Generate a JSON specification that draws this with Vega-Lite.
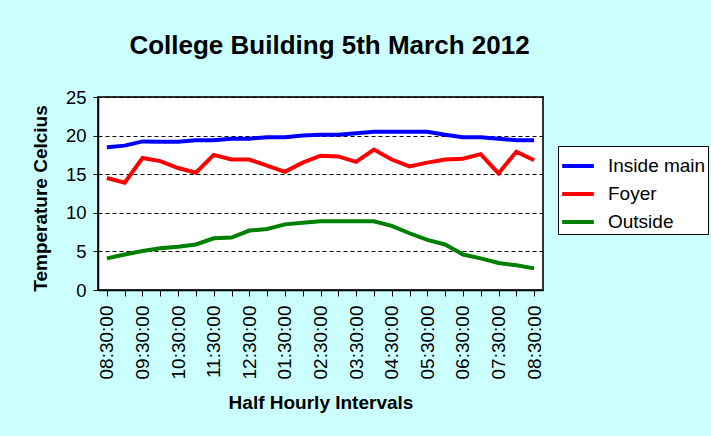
{
  "$schema": "https://vega.github.io/schema/vega-lite/v6.json",
  "width": 445,
  "height": 193,
  "autosize": "none",
  "padding": {"left": 98, "top": 97, "right": 168, "bottom": 146},
  "background": "#CCFFFF",
  "config": {
    "font": "Liberation Sans",
    "view": {"fill": "white", "stroke": "#333333", "strokeWidth": 2}
  },
  "title": {
    "text": "College Building 5th March 2012",
    "fontSize": 26,
    "fontWeight": "bold",
    "color": "black",
    "baseline": "alphabetic",
    "offset": 8,
    "dx": 9
  },
  "data": {
    "values": [
      {"time": "08:30:00 AM", "series": "Inside main", "temp": 18.5},
      {"time": "09:00:00 AM", "series": "Inside main", "temp": 18.7},
      {"time": "09:30:00 AM", "series": "Inside main", "temp": 19.25},
      {"time": "10:00:00 AM", "series": "Inside main", "temp": 19.2},
      {"time": "10:30:00 AM", "series": "Inside main", "temp": 19.2},
      {"time": "11:00:00 AM", "series": "Inside main", "temp": 19.4},
      {"time": "11:30:00 AM", "series": "Inside main", "temp": 19.4},
      {"time": "12:00:00 PM", "series": "Inside main", "temp": 19.6},
      {"time": "12:30:00 PM", "series": "Inside main", "temp": 19.6},
      {"time": "01:00:00 PM", "series": "Inside main", "temp": 19.8},
      {"time": "01:30:00 PM", "series": "Inside main", "temp": 19.8},
      {"time": "02:00:00 PM", "series": "Inside main", "temp": 20.0},
      {"time": "02:30:00 PM", "series": "Inside main", "temp": 20.1},
      {"time": "03:00:00 PM", "series": "Inside main", "temp": 20.1},
      {"time": "03:30:00 PM", "series": "Inside main", "temp": 20.3},
      {"time": "04:00:00 PM", "series": "Inside main", "temp": 20.5},
      {"time": "04:30:00 PM", "series": "Inside main", "temp": 20.5},
      {"time": "05:00:00 PM", "series": "Inside main", "temp": 20.5},
      {"time": "05:30:00 PM", "series": "Inside main", "temp": 20.5},
      {"time": "06:00:00 PM", "series": "Inside main", "temp": 20.1},
      {"time": "06:30:00 PM", "series": "Inside main", "temp": 19.8},
      {"time": "07:00:00 PM", "series": "Inside main", "temp": 19.8},
      {"time": "07:30:00 PM", "series": "Inside main", "temp": 19.6},
      {"time": "08:00:00 PM", "series": "Inside main", "temp": 19.4},
      {"time": "08:30:00 PM", "series": "Inside main", "temp": 19.4},
      {"time": "08:30:00 AM", "series": "Foyer", "temp": 14.5},
      {"time": "09:00:00 AM", "series": "Foyer", "temp": 13.9},
      {"time": "09:30:00 AM", "series": "Foyer", "temp": 17.1},
      {"time": "10:00:00 AM", "series": "Foyer", "temp": 16.7},
      {"time": "10:30:00 AM", "series": "Foyer", "temp": 15.8},
      {"time": "11:00:00 AM", "series": "Foyer", "temp": 15.2},
      {"time": "11:30:00 AM", "series": "Foyer", "temp": 17.5},
      {"time": "12:00:00 PM", "series": "Foyer", "temp": 16.9},
      {"time": "12:30:00 PM", "series": "Foyer", "temp": 16.9},
      {"time": "01:00:00 PM", "series": "Foyer", "temp": 16.1},
      {"time": "01:30:00 PM", "series": "Foyer", "temp": 15.3},
      {"time": "02:00:00 PM", "series": "Foyer", "temp": 16.5},
      {"time": "02:30:00 PM", "series": "Foyer", "temp": 17.4},
      {"time": "03:00:00 PM", "series": "Foyer", "temp": 17.3},
      {"time": "03:30:00 PM", "series": "Foyer", "temp": 16.6},
      {"time": "04:00:00 PM", "series": "Foyer", "temp": 18.2},
      {"time": "04:30:00 PM", "series": "Foyer", "temp": 16.9},
      {"time": "05:00:00 PM", "series": "Foyer", "temp": 16.0},
      {"time": "05:30:00 PM", "series": "Foyer", "temp": 16.5},
      {"time": "06:00:00 PM", "series": "Foyer", "temp": 16.9},
      {"time": "06:30:00 PM", "series": "Foyer", "temp": 17.0},
      {"time": "07:00:00 PM", "series": "Foyer", "temp": 17.6},
      {"time": "07:30:00 PM", "series": "Foyer", "temp": 15.1},
      {"time": "08:00:00 PM", "series": "Foyer", "temp": 17.9},
      {"time": "08:30:00 PM", "series": "Foyer", "temp": 16.8},
      {"time": "08:30:00 AM", "series": "Outside", "temp": 4.1},
      {"time": "09:00:00 AM", "series": "Outside", "temp": 4.6},
      {"time": "09:30:00 AM", "series": "Outside", "temp": 5.05},
      {"time": "10:00:00 AM", "series": "Outside", "temp": 5.4},
      {"time": "10:30:00 AM", "series": "Outside", "temp": 5.6},
      {"time": "11:00:00 AM", "series": "Outside", "temp": 5.9},
      {"time": "11:30:00 AM", "series": "Outside", "temp": 6.7},
      {"time": "12:00:00 PM", "series": "Outside", "temp": 6.8},
      {"time": "12:30:00 PM", "series": "Outside", "temp": 7.7},
      {"time": "01:00:00 PM", "series": "Outside", "temp": 7.9},
      {"time": "01:30:00 PM", "series": "Outside", "temp": 8.5},
      {"time": "02:00:00 PM", "series": "Outside", "temp": 8.7},
      {"time": "02:30:00 PM", "series": "Outside", "temp": 8.9},
      {"time": "03:00:00 PM", "series": "Outside", "temp": 8.9},
      {"time": "03:30:00 PM", "series": "Outside", "temp": 8.9},
      {"time": "04:00:00 PM", "series": "Outside", "temp": 8.9},
      {"time": "04:30:00 PM", "series": "Outside", "temp": 8.3},
      {"time": "05:00:00 PM", "series": "Outside", "temp": 7.35},
      {"time": "05:30:00 PM", "series": "Outside", "temp": 6.5},
      {"time": "06:00:00 PM", "series": "Outside", "temp": 5.9},
      {"time": "06:30:00 PM", "series": "Outside", "temp": 4.6},
      {"time": "07:00:00 PM", "series": "Outside", "temp": 4.1},
      {"time": "07:30:00 PM", "series": "Outside", "temp": 3.5},
      {"time": "08:00:00 PM", "series": "Outside", "temp": 3.2},
      {"time": "08:30:00 PM", "series": "Outside", "temp": 2.8}
    ]
  },
  "mark": {"type": "line", "strokeWidth": 4},
  "encoding": {
    "x": {
      "field": "time",
      "type": "ordinal",
      "sort": null,
      "scale": {"type": "point", "padding": 0.5},
      "axis": {
        "title": "Half Hourly Intervals",
        "titleFontSize": 19,
        "titleFontWeight": "bold",
        "titleColor": "black",
        "titleBaseline": "alphabetic",
        "titleY": 118,
        "labelExpr": "slice(datum.value, 3, 5) == '30' ? slice(datum.value, 0, 8) : ''",
        "labelAngle": 270,
        "labelFontSize": 19,
        "labelColor": "black",
        "labelPadding": 9,
        "labelOverlap": false,
        "tickSize": 6,
        "tickColor": "black",
        "domainColor": "black",
        "domainWidth": 1.5,
        "grid": false
      }
    },
    "y": {
      "field": "temp",
      "type": "quantitative",
      "scale": {"domain": [0, 25], "nice": false},
      "axis": {
        "title": "Temperature Celcius",
        "titleFontSize": 19,
        "titleFontWeight": "bold",
        "titleColor": "black",
        "titleAngle": 270,
        "titleBaseline": "alphabetic",
        "titleX": -52,
        "titleY": 101,
        "titleAlign": "center",
        "values": [0, 5, 10, 15, 20, 25],
        "labelFontSize": 18.5,
        "labelColor": "black",
        "labelPadding": 7,
        "tickSize": 5,
        "tickColor": "black",
        "domainColor": "black",
        "domainWidth": 1.5,
        "grid": true,
        "gridColor": "black",
        "gridDash": [4, 3],
        "gridWidth": 1
      }
    },
    "color": {
      "field": "series",
      "type": "nominal",
      "scale": {
        "domain": ["Inside main", "Foyer", "Outside"],
        "range": ["#0000FF", "#FF0000", "#008000"]
      },
      "legend": {
        "title": null,
        "orient": "none",
        "legendX": 460,
        "legendY": 49,
        "fillColor": "white",
        "strokeColor": "black",
        "padding": 2,
        "symbolType": "stroke",
        "symbolSize": 1000,
        "symbolStrokeWidth": 4,
        "labelFontSize": 19,
        "labelColor": "black",
        "labelOffset": 12,
        "rowPadding": 0
      }
    }
  }
}
